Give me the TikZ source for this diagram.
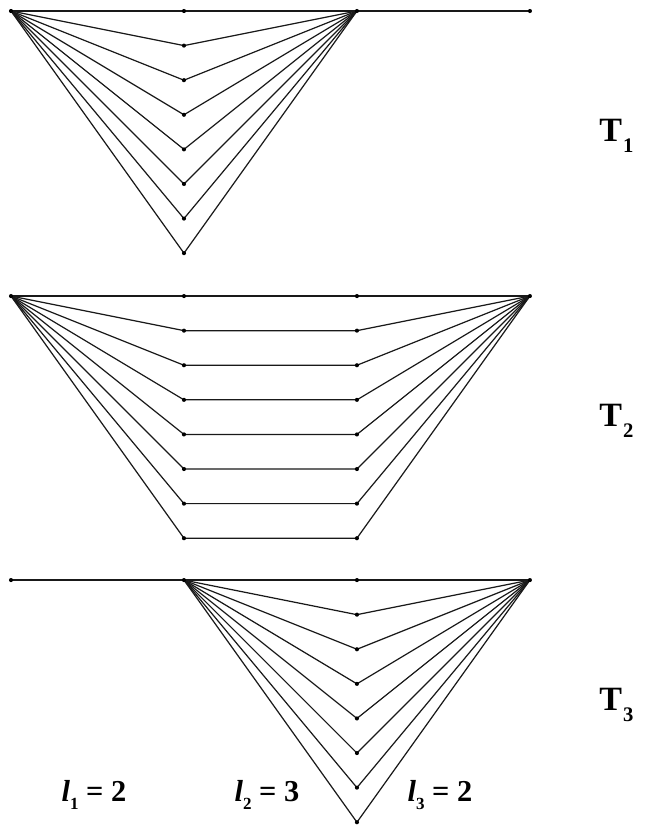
\documentclass[tikz,border=0pt]{standalone}
\usepackage{fontspec}
\setmainfont{Liberation Serif}
\usetikzlibrary{positioning}
\tikzset{
  edge/.style={line width=1pt, black!90},
  vtx/.style={circle, fill=black, inner sep=0pt, minimum size=3.4pt},
  tlabel/.style={inner sep=0pt, font=\fontsize{28}{30}\selectfont\bfseries},
  llabel/.style={inner sep=0pt, font=\fontsize{25}{27}\selectfont\bfseries}
}
\newcommand{\tsub}[1]{\kern1pt\raisebox{-9pt}{\fontsize{17}{17}\selectfont #1}}
\newcommand{\lsub}[1]{\raisebox{-6pt}{\fontsize{14}{14}\selectfont #1}}

\begin{document}
\begin{tikzpicture}
    \useasboundingbox (-0.318,0.318) rectangle (18.35,-23.53);
    % T1
    \coordinate (a1) at (0,0);
    \coordinate (c1) at (10,0);
    \coordinate (d1) at (15,0);
    \foreach \k in {0,...,7} {
      \coordinate (b1\k) at (5,-\k);
      \draw[edge] (a1) -- (b1\k) -- (c1);
      \node[vtx] at (b1\k) {};
    }
    \draw[edge] (c1) -- (d1);
    \foreach \p in {a1,c1,d1} \node[vtx] at (\p) {};
    \node[tlabel] (t1) at (17.5,-3.6) {T\tsub{1}};

    % T2
    \coordinate (a2) at (0,-8.24);
    \coordinate (d2) at (15,-8.24);
    \foreach \k in {0,...,7} {
      \coordinate (b2\k) at (5,-8.24-\k);
      \coordinate (c2\k) at (10,-8.24-\k);
      \draw[edge] (a2) -- (b2\k) -- (c2\k) -- (d2);
      \node[vtx] at (b2\k) {};
      \node[vtx] at (c2\k) {};
    }
    \foreach \p in {a2,d2} \node[vtx] at (\p) {};
    \node[tlabel] (t2) at (17.5,-11.84) {T\tsub{2}};

    % T3
    \coordinate (a3) at (0,-16.45);
    \coordinate (b3) at (5,-16.45);
    \coordinate (d3) at (15,-16.45);
    \draw[edge] (a3) -- (b3);
    \foreach \k in {0,...,7} {
      \coordinate (c3\k) at (10,-16.45-\k);
      \draw[edge] (b3) -- (c3\k) -- (d3);
      \node[vtx] at (c3\k) {};
    }
    \foreach \p in {a3,b3,d3} \node[vtx] at (\p) {};
    \node[tlabel] (t3) at (17.5,-20.06) {T\tsub{3}};

    \node[llabel] (l1) at (2.4,-22.66) {{\itshape l}\lsub{1} = 2};
    \node[llabel] (l2) at (7.4,-22.66) {{\itshape l}\lsub{2} = 3};
    \node[llabel] (l3) at (12.4,-22.66) {{\itshape l}\lsub{3} = 2};
  \end{tikzpicture}
\end{document}
